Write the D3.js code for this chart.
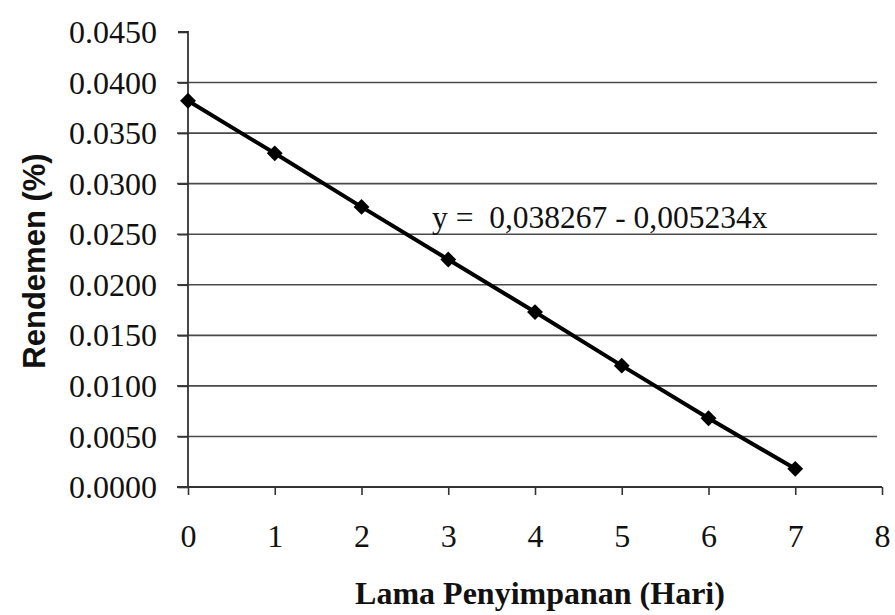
<!DOCTYPE html>
<html>
<head>
<meta charset="utf-8">
<script src="https://cdn.jsdelivr.net/npm/d3@7"></script>
<style>
  body { margin: 0; background: #fff; }
  svg { display: block; }
</style>
</head>
<body>
<svg id="chart" width="895" height="615"></svg>
<script>
const days = [0, 1, 2, 3, 4, 5, 6, 7]
const rendemen = [0.0382, 0.0330, 0.0277, 0.0225, 0.0173, 0.0120, 0.0068, 0.0018]
const xTicks = [0, 1, 2, 3, 4, 5, 6, 7, 8]
const yTicks = [0, 0.005, 0.01, 0.015, 0.02, 0.025, 0.03, 0.035, 0.04, 0.045]
const equation = 'y =  0,038267 - 0,005234x'

const svg = d3.select('#chart')

const x = d3.scaleLinear().domain([0, 8]).range([188, 882])
const y = d3.scaleLinear().domain([0, 0.045]).range([487, 32])

const serif = '"Liberation Serif", "Times New Roman", serif'

// horizontal gridlines
svg.append('g').selectAll('line')
  .data(yTicks.filter(d => d > 0 && d < 0.045))
  .enter().append('line')
  .attr('x1', 177).attr('x2', 877)
  .attr('y1', d => y(d)).attr('y2', d => y(d))
  .attr('stroke', '#4a4a4a').attr('stroke-width', 1.6)

const yAxis = svg.append('g')
  .attr('transform', `translate(${x(0)},0)`)
  .call(d3.axisLeft(y).tickValues(yTicks).tickFormat(d3.format('.4f')).tickSize(10).tickPadding(21))
const xAxis = svg.append('g')
  .attr('transform', `translate(0,${y(0)})`)
  .call(d3.axisBottom(x).tickValues(xTicks).tickFormat(d3.format('d')).tickSize(8).tickPadding(29))

;[yAxis, xAxis].forEach(a => {
  a.select('.domain').attr('stroke', '#333').attr('stroke-width', 1.8)
  a.selectAll('.tick line').attr('stroke', '#333').attr('stroke-width', 1.6)
  a.selectAll('.tick text')
    .attr('fill', '#111')
    .style('font-family', serif)
    .style('font-size', '32px')
})
yAxis.select('.domain').attr('d', `M-10,${y(0.045)}H0V${y(0)}`)
xAxis.select('.domain').attr('d', `M${x(0) - 11},0H${x(8)}`)
xAxis.selectAll('.tick text').attr('dy', '0.71em')
yAxis.selectAll('.tick text').attr('dy', '0.33em')

// series line
const line = d3.line().x((d, i) => x(days[i])).y(d => y(d))
svg.append('path')
  .datum(rendemen)
  .attr('d', line)
  .attr('fill', 'none')
  .attr('stroke', '#000')
  .attr('stroke-width', 4)

svg.append('g').selectAll('path')
  .data(rendemen)
  .enter().append('path')
  .attr('d', d3.symbol(d3.symbolDiamond2, 160))
  .attr('transform', (d, i) => `translate(${x(days[i])},${y(d)})`)
  .attr('fill', '#000')

svg.append('text')
  .attr('x', 432).attr('y', 228)
  .style('font-family', serif)
  .style('font-size', '31.5px')
  .attr('fill', '#111')
  .style('white-space', 'pre')
  .text(equation)

svg.append('text')
  .attr('x', 540).attr('y', 604)
  .attr('text-anchor', 'middle')
  .style('font-family', serif)
  .style('font-weight', 'bold')
  .style('font-size', '32px')
  .attr('fill', '#111')
  .text('Lama Penyimpanan (Hari)')

svg.append('text')
  .attr('transform', 'translate(45,261) rotate(-90)')
  .attr('text-anchor', 'middle')
  .style('font-family', '"Liberation Sans", Arial, sans-serif')
  .style('font-weight', 'bold')
  .style('font-size', '31px')
  .attr('fill', '#111')
  .text('Rendemen (%)')
</script>
</body>
</html>
